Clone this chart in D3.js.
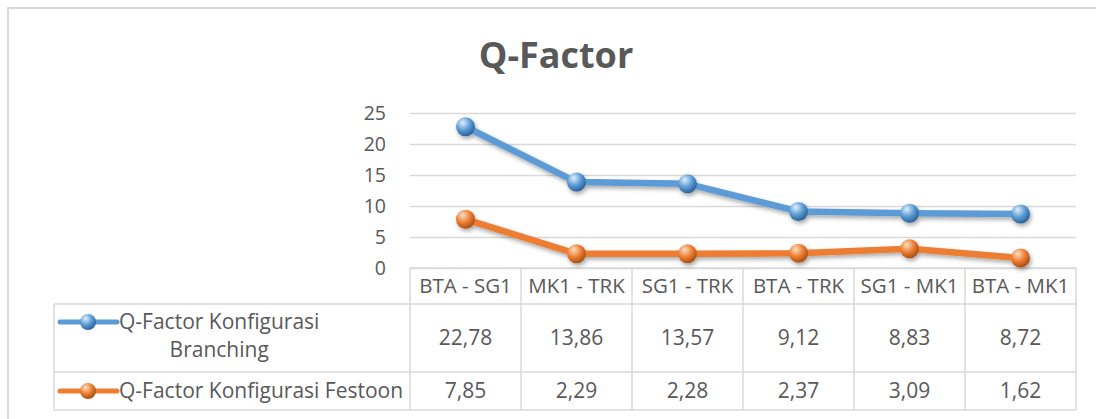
<!DOCTYPE html>
<html><head><meta charset="utf-8">
<script src="https://cdn.jsdelivr.net/npm/d3@7"></script>
<style>
html,body{margin:0;padding:0;background:#fff;}
svg{display:block;}
text{font-family:"Open Sans",sans-serif;fill:#595959;}
</style></head>
<body>
<script>
const categories = ["BTA - SG1","MK1 - TRK","SG1 - TRK","BTA - TRK","SG1 - MK1","BTA - MK1"];
const branching = [22.78,13.86,13.57,9.12,8.83,8.72];
const festoon = [7.85,2.29,2.28,2.37,3.09,1.62];
const yTicks = [0,5,10,15,20,25];
const seriesNames = ["Q-Factor Konfigurasi Branching","Q-Factor Konfigurasi Festoon"];
const title = "Q-Factor";

const W = 1096, H = 419;
const svg = d3.select("body").append("svg").attr("width", W).attr("height", H);
const defs = svg.append("defs");

function grad(id, hi, mid, lo){
  const g = defs.append("radialGradient").attr("id", id)
    .attr("cx","38%").attr("cy","32%").attr("r","70%").attr("fx","35%").attr("fy","28%");
  g.append("stop").attr("offset","0%").attr("stop-color",hi);
  g.append("stop").attr("offset","55%").attr("stop-color",mid);
  g.append("stop").attr("offset","100%").attr("stop-color",lo);
}
grad("gBlue","#dff0fc","#5b9bd5","#2a5f95");
grad("gOrange","#fde0c6","#ed7d31","#a34d12");
const f = defs.append("filter").attr("id","shadow").attr("x","-20%").attr("y","-50%").attr("width","140%").attr("height","200%");
f.append("feDropShadow").attr("dx",1.5).attr("dy",2.5).attr("stdDeviation",2).attr("flood-color","#000").attr("flood-opacity",0.35);

// outer border
svg.append("rect").attr("x",8).attr("y",8).attr("width",W+20).attr("height",H+20)
  .attr("fill","none").attr("stroke","#d9d9d9").attr("stroke-width",2);

// title
svg.append("text").attr("x",556).attr("y",68).attr("text-anchor","middle")
  .style("font-size","36px").style("font-weight","bold").text(title);

const x = d3.scaleBand().domain(categories).range([410,1076]).padding(0);
const y = d3.scaleLinear().domain([0,25]).range([268,113]);
const cx = c => x(c) + x.bandwidth()/2;

// gridlines
const yAxis = d3.axisLeft(y).tickValues(yTicks).tickSize(-(1076-410)).tickFormat(d3.format("d"));
const ga = svg.append("g").attr("transform","translate(410,0)").call(yAxis);
ga.select(".domain").remove();
ga.selectAll(".tick line").attr("stroke","#d9d9d9").attr("stroke-width",1.3);
ga.selectAll(".tick text").attr("x",-24).attr("dy","0.35em").style("font-size","19.5px").attr("fill","#595959");

// table
const tLeft = 54, tRight = 1076, rows = [268, 304, 372, 410];
const tg = svg.append("g").attr("stroke","#d9d9d9").attr("stroke-width",1.5).attr("fill","none");
tg.append("line").attr("x1",410).attr("x2",tRight).attr("y1",rows[0]).attr("y2",rows[0]);
[rows[1],rows[2],rows[3]].forEach(r=>tg.append("line").attr("x1",tLeft).attr("x2",tRight).attr("y1",r).attr("y2",r));
tg.append("line").attr("x1",tLeft).attr("x2",tLeft).attr("y1",rows[1]).attr("y2",rows[3]);
categories.forEach(c=>tg.append("line").attr("x1",x(c)).attr("x2",x(c)).attr("y1",rows[0]).attr("y2",rows[3]));
tg.append("line").attr("x1",tRight).attr("x2",tRight).attr("y1",rows[0]).attr("y2",rows[3]);

const fs = "21px";
svg.append("g").selectAll("text").data(categories).join("text")
  .attr("x",d=>cx(d)).attr("y",(rows[0]+rows[1])/2).attr("dy","0.35em").attr("text-anchor","middle")
  .style("font-size","20.5px").text(d=>d);
const fmt = v => d3.format(".2f")(v).replace(".",",");
svg.append("g").selectAll("text").data(branching).join("text")
  .attr("x",(d,i)=>cx(categories[i])).attr("y",(rows[1]+rows[2])/2).attr("dy","0.35em").attr("text-anchor","middle")
  .style("font-size",fs).text(fmt);
svg.append("g").selectAll("text").data(festoon).join("text")
  .attr("x",(d,i)=>cx(categories[i])).attr("y",(rows[2]+rows[3])/2).attr("dy","0.35em").attr("text-anchor","middle")
  .style("font-size",fs).text(fmt);

// legend entries
function legendKey(yc, color, gid){
  svg.append("line").attr("x1",60).attr("x2",117).attr("y1",yc).attr("y2",yc)
    .attr("stroke",color).attr("stroke-width",5).attr("stroke-linecap","round");
  svg.append("circle").attr("cx",88).attr("cy",yc).attr("r",8).attr("fill","url(#"+gid+")");
}
legendKey(322,"#5b9bd5","gBlue");
legendKey(391,"#ed7d31","gOrange");
const words = seriesNames[0].split(" ");
const l1 = svg.append("text").attr("x",119).attr("y",322).attr("dy","0.35em").style("font-size",fs)
  .text(words.slice(0,2).join(" "));
const w1 = l1.node().getComputedTextLength();
svg.append("text").attr("x",119 + w1/2).attr("y",350).attr("dy","0.35em").attr("text-anchor","middle")
  .style("font-size",fs).text(words.slice(2).join(" "));
svg.append("text").attr("x",119).attr("y",391).attr("dy","0.35em").style("font-size",fs).text(seriesNames[1]);

// series lines
const line = d3.line().x((d,i)=>cx(categories[i])).y(d=>y(d));
function drawSeries(data, color, gid){
  const g = svg.append("g").attr("filter","url(#shadow)");
  g.append("path").datum(data).attr("d",line).attr("fill","none").attr("stroke",color)
    .attr("stroke-width",6.5).attr("stroke-linejoin","round");
  g.selectAll("circle").data(data).join("circle")
    .attr("cx",(d,i)=>cx(categories[i])).attr("cy",d=>y(d)).attr("r",9.5)
    .attr("fill","url(#"+gid+")");
}
drawSeries(branching,"#5b9bd5","gBlue");
drawSeries(festoon,"#ed7d31","gOrange");
</script>
</body></html>
